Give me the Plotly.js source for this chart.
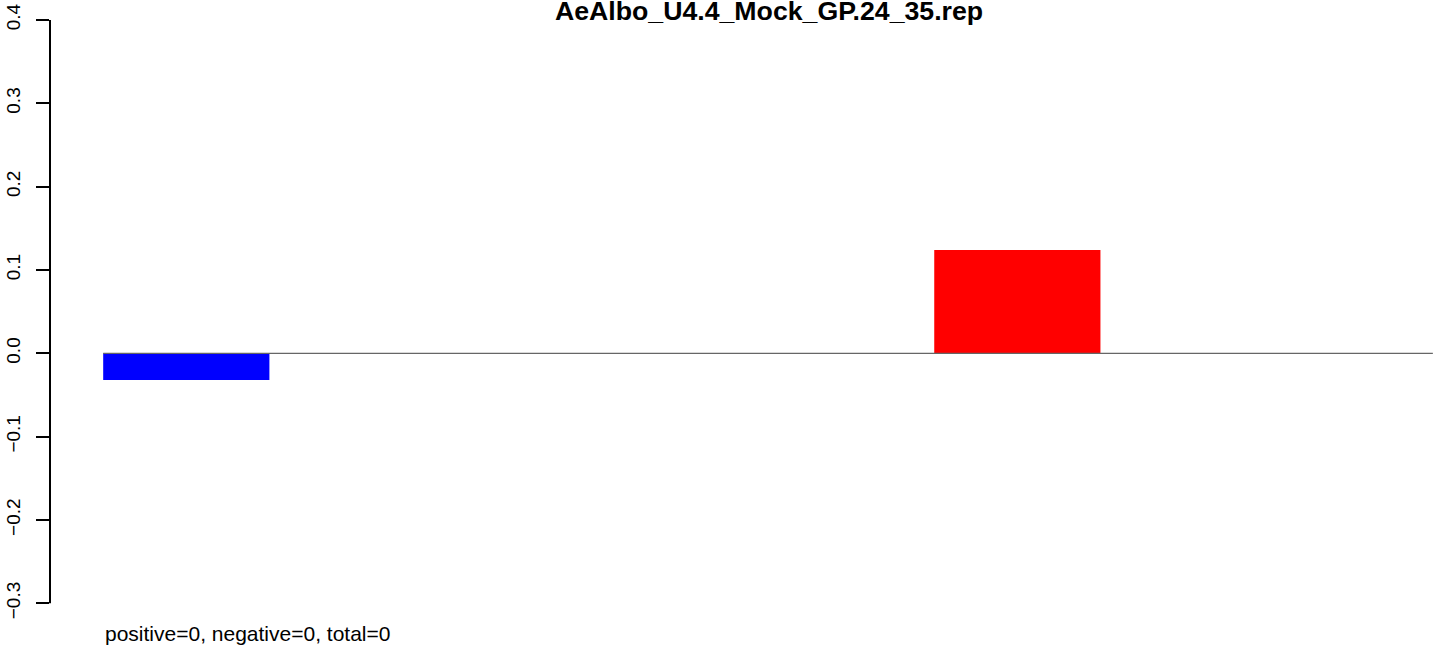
<!DOCTYPE html>
<html>
<head>
<meta charset="utf-8">
<script src="https://cdn.plot.ly/plotly-3.0.1.min.js"></script>
<style>html,body{margin:0;padding:0;background:#fff;}#chart{width:1444px;height:655px;}</style>
</head>
<body>
<div id="chart"></div>
<script>
// ---- data ----
const chartTitle = "AeAlbo_U4.4_Mock_GP.24_35.rep";
const categories = ["1", "2", "3", "4", "5", "6", "7", "8"];
const values = [-0.032, 0, 0, 0, 0, 0.124, 0, 0];
const yTickValues = [-0.3, -0.2, -0.1, 0.0, 0.1, 0.2, 0.3, 0.4];
const yTickLabels = ["\u22120.3", "\u22120.2", "\u22120.1", "0.0", "0.1", "0.2", "0.3", "0.4"];
const footerText = "positive=0, negative=0, total=0";

const positiveColor = "#ff0000";
const negativeColor = "#0000ff";

const xPos = categories.map((_, i) => i + 0.5);
const barColors = values.map(v => v < 0 ? negativeColor : positiveColor);

const font = "Liberation Sans, Arial, Helvetica, sans-serif";

const trace = {
  type: "bar",
  x: xPos,
  y: values,
  width: categories.map(() => 1),
  marker: { color: barColors, line: { width: 0 } },
  hoverinfo: "skip",
  showlegend: false
};

const layout = {
  width: 1444,
  height: 655,
  margin: { l: 50, r: 0, t: 0, b: 28, pad: 0 },
  paper_bgcolor: "#ffffff",
  plot_bgcolor: "#ffffff",
  showlegend: false,
  title: {
    text: chartTitle,
    font: { family: font, size: 26.7, color: "#000000", weight: "bold" },
    xref: "container", x: 769 / 1444, xanchor: "center",
    yref: "container", y: 1 - 10.5 / 655, yanchor: "middle"
  },
  xaxis: {
    range: [-0.32, 8.067],
    visible: false,
    showgrid: false,
    zeroline: false,
    fixedrange: true
  },
  yaxis: {
    range: [-0.3284, 0.424],
    tickmode: "array",
    tickvals: yTickValues,
    ticktext: yTickLabels,
    tickangle: -90,
    ticks: "outside",
    ticklen: 13,
    tickwidth: 2,
    tickcolor: "#000000",
    ticklabelstandoff: 8,
    tickfont: { family: font, size: 19, color: "#000000" },
    showgrid: false,
    zeroline: false,
    showline: false,
    fixedrange: true
  },
  shapes: [
    { type: "line", xref: "paper", yref: "y", x0: 0, x1: 0,
      y0: yTickValues[0], y1: yTickValues[yTickValues.length - 1],
      line: { color: "#000000", width: 2 } },
    { type: "line", xref: "x", yref: "y", x0: 0, x1: categories.length, y0: 0, y1: 0,
      line: { color: "#666666", width: 1.3 }, layer: "above" }
  ],
  annotations: [
    { text: footerText, xref: "x", x: 0, xanchor: "left",
      yref: "paper", y: -6 / 627, yanchor: "middle", showarrow: false,
      font: { family: font, size: 21, color: "#000000" } }
  ]
};

Plotly.newPlot("chart", [trace], layout, { staticPlot: true, displayModeBar: false });
</script>
</body>
</html>
